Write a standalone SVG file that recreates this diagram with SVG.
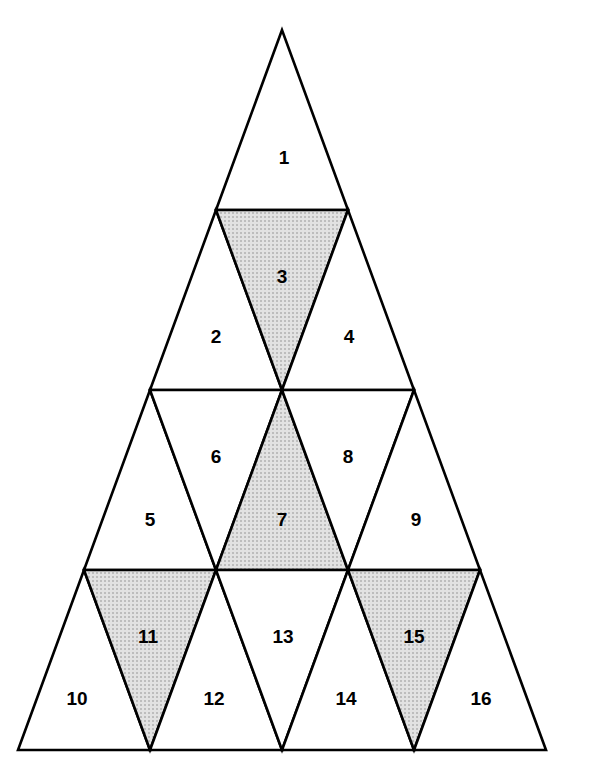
<svg xmlns="http://www.w3.org/2000/svg" width="589" height="757" viewBox="0 0 589 757">
<defs>
<pattern id="dots" width="4" height="4" patternUnits="userSpaceOnUse">
<rect width="4" height="4" fill="#e2e2e2"/>
<rect x="0" y="0" width="2" height="2" fill="#bdbdbd"/>
</pattern>
<style>
.t{stroke:#000;stroke-width:2.6;stroke-linejoin:miter;fill:#fff}
.s{fill:url(#dots)}
.l{font-family:"Liberation Sans",Arial,sans-serif;font-weight:bold;font-size:19px;text-anchor:middle;fill:#000}
</style>
</defs>
<rect width="589" height="757" fill="#fff"/>
<g id="t1"><polygon class="t" points="282,30 216,210 348,210"/><text class="l" x="284" y="164">1</text></g>
<g id="t2"><polygon class="t" points="216,210 150,390 282,390"/><text class="l" x="216" y="343">2</text></g>
<g id="t3"><polygon class="t s" points="216,210 348,210 282,390"/><text class="l" x="282" y="283">3</text></g>
<g id="t4"><polygon class="t" points="348,210 282,390 414,390"/><text class="l" x="349" y="343">4</text></g>
<g id="t5"><polygon class="t" points="150,390 84,570 216,570"/><text class="l" x="150" y="526">5</text></g>
<g id="t6"><polygon class="t" points="150,390 282,390 216,570"/><text class="l" x="216" y="463">6</text></g>
<g id="t7"><polygon class="t s" points="282,390 216,570 348,570"/><text class="l" x="282" y="526">7</text></g>
<g id="t8"><polygon class="t" points="282,390 414,390 348,570"/><text class="l" x="348" y="463">8</text></g>
<g id="t9"><polygon class="t" points="414,390 348,570 480,570"/><text class="l" x="416" y="526">9</text></g>
<g id="t10"><polygon class="t" points="84,570 18,750 150,750"/><text class="l" x="77" y="705">10</text></g>
<g id="t11"><polygon class="t s" points="84,570 216,570 150,750"/><text class="l" x="148" y="643">11</text></g>
<g id="t12"><polygon class="t" points="216,570 150,750 282,750"/><text class="l" x="214" y="705">12</text></g>
<g id="t13"><polygon class="t" points="216,570 348,570 282,750"/><text class="l" x="283" y="643">13</text></g>
<g id="t14"><polygon class="t" points="348,570 282,750 414,750"/><text class="l" x="346" y="705">14</text></g>
<g id="t15"><polygon class="t s" points="348,570 480,570 414,750"/><text class="l" x="414" y="643">15</text></g>
<g id="t16"><polygon class="t" points="480,570 414,750 546,750"/><text class="l" x="481" y="705">16</text></g>
</svg>
